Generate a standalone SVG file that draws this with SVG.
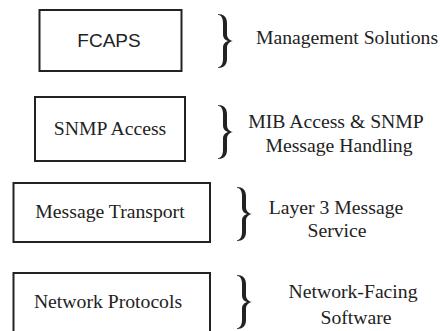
<svg xmlns="http://www.w3.org/2000/svg" width="440" height="331" viewBox="0 0 440 331">
<defs>
<style>
.box{fill:#fff;stroke:#222;stroke-width:2}
.sans{font-family:"Liberation Sans",Arial,sans-serif;font-size:19px;fill:#222;text-anchor:middle}
.serif{font-family:"Liberation Serif","Times New Roman",serif;font-size:19.7px;fill:#222;text-anchor:middle}
.brace{fill:#222}
</style>
<path id="br" d="M0,0 C5.5,0 9,3 9,9 L9,20 C9,24 11.5,26.5 15,27 C11.5,27.5 9,30 9,34 L9,45 C9,51 5.5,54 0,54 L0,53.2 C3,53 5,50 5,45 L5,34 C5,30 7,28 10,27 C7,26 5,24 5,20 L5,9 C5,4 3,1 0,0.8 Z"/>
</defs>
<rect width="440" height="331" fill="#fff"/>
<g id="fcaps">
<rect class="box" x="39.5" y="10" width="142" height="61"/>
<text class="sans" x="109" y="47">FCAPS</text>
</g>
<g id="snmp">
<rect class="box" x="35" y="97" width="150" height="64"/>
<text class="serif" x="110" y="135">SNMP Access</text>
</g>
<g id="transport">
<rect class="box" x="13.5" y="183" width="196.5" height="59"/>
<text class="serif" x="110" y="218">Message Transport</text>
</g>
<g id="protocols">
<rect class="box" x="13.5" y="273" width="196.5" height="70"/>
<text class="serif" x="108" y="308">Network Protocols</text>
</g>
<g id="connectors">
<use href="#br" class="brace" x="218" y="14"/>
<use href="#br" class="brace" x="218" y="105"/>
<use href="#br" class="brace" x="237" y="187"/>
<use href="#br" class="brace" x="237" y="275"/>
</g>
<g id="labels">
<text class="serif" x="347" y="44">Management Solutions</text>
<text class="serif" x="336" y="128">MIB Access &amp; SNMP</text>
<text class="serif" x="339" y="152">Message Handling</text>
<text class="serif" x="336" y="214">Layer 3 Message</text>
<text class="serif" x="337" y="237">Service</text>
<text class="serif" x="353" y="298">Network-Facing</text>
<text class="serif" x="356" y="324">Software</text>
</g>
</svg>
